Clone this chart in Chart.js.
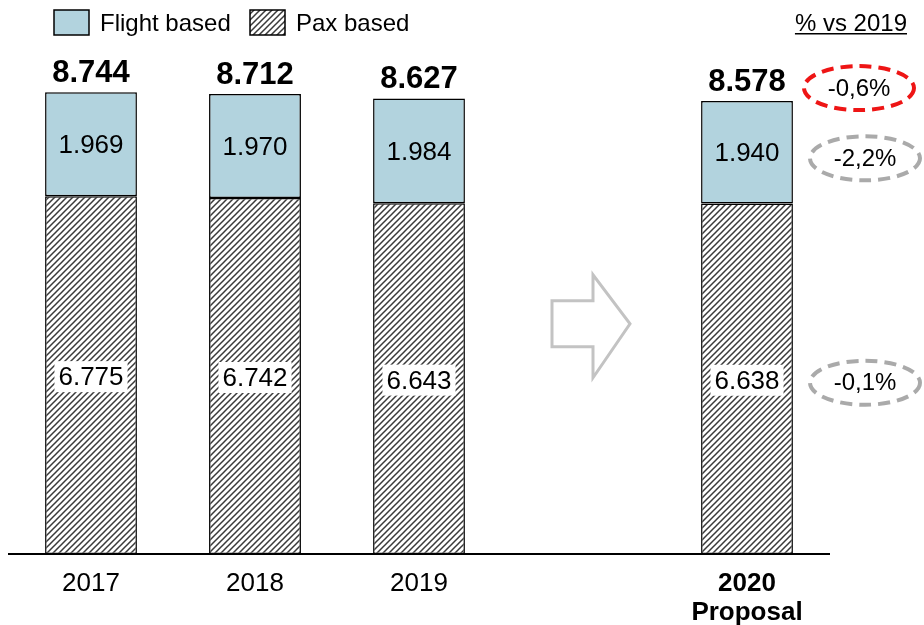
<!DOCTYPE html>
<html>
<head>
<meta charset="utf-8">
<script src="https://cdn.jsdelivr.net/npm/chart.js"></script>
<style>
  html, body { margin: 0; padding: 0; background: #fff; }
  #wrap { width: 924px; height: 625px; position: relative; }
</style>
</head>
<body>
<div id="wrap"><canvas id="chart"></canvas></div>
<script>
// data
const categories = ["2017", "2018", "2019", "", ["2020", "Proposal"]];
const paxBased = [6775, 6742, 6643, null, 6638];
const flightBased = [1969, 1970, 1984, null, 1940];
const vs2019 = ["-0,6%", "-2,2%", "-0,1%"]; // total, flight, pax for 2020

const FONT = "'Liberation Sans', Arial, sans-serif";
const blue = "#b2d3de";

// hatch pattern for Pax based
const makeHatch = () => {
    const c = document.createElement("canvas");
    c.width = 6; c.height = 6;
    const g = c.getContext("2d");
    g.fillStyle = "#fff";
    g.fillRect(0, 0, 6, 6);
    g.strokeStyle = "#3a3a3a";
    g.lineWidth = 1.5;
    g.beginPath();
    g.moveTo(-1, 7); g.lineTo(7, -1);
    g.moveTo(-4, 4); g.lineTo(4, -4);
    g.moveTo(2, 10); g.lineTo(10, 2);
    g.stroke();
    return g.createPattern(c, "repeat");
};
const hatch = makeHatch();

const fmt = v => v.toFixed(0).replace(/\B(?=(\d{3})+(?!\d))/g, ".");

const extras = {
    id: "extras",
    afterDatasetsDraw(chart) {
        const ctx = chart.ctx;
        const paxMeta = chart.getDatasetMeta(0);
        const flMeta = chart.getDatasetMeta(1);
        ctx.save();
        ctx.textAlign = "center";
        ctx.textBaseline = "middle";

        categories.forEach((c, i) => {
            if (paxBased[i] == null) return;
            const pb = paxMeta.data[i], fb = flMeta.data[i];
            // pax label with white box
            const py = (pb.y + pb.base) / 2;
            ctx.font = "26px " + FONT;
            const t = fmt(paxBased[i]);
            const w = ctx.measureText(t).width + 8;
            ctx.fillStyle = "#fff";
            ctx.fillRect(pb.x - w / 2, py - 14, w, 31);
            ctx.fillStyle = "#000";
            ctx.fillText(t, pb.x, py + 3);
            // flight label
            ctx.fillText(fmt(flightBased[i]), fb.x, (fb.y + fb.base) / 2 + 2);
            // total
            ctx.font = "bold 31px " + FONT;
            ctx.textBaseline = "alphabetic";
            ctx.fillText(fmt(paxBased[i] + flightBased[i]), fb.x, fb.y - 10);
            ctx.textBaseline = "middle";
        });

        // % vs 2019 ellipses for last bar
        const last = categories.length - 1;
        const fb = flMeta.data[last], pb = paxMeta.data[last];
        const ex = fb.x + 118;
        const rows = [
            { y: fb.y - 13, color: "#ee1515", x: ex - 6 },
            { y: (fb.y + fb.base) / 2 + 6, color: "#aaaaaa", x: ex },
            { y: (pb.y + pb.base) / 2 + 4, color: "#aaaaaa", x: ex }
        ];
        rows.forEach((r, k) => {
            ctx.beginPath();
            ctx.setLineDash([12, 7]);
            ctx.lineWidth = 4;
            ctx.strokeStyle = r.color;
            ctx.ellipse(r.x, r.y, 55, 22, 0, 0, Math.PI * 2);
            ctx.stroke();
            ctx.setLineDash([]);
            ctx.fillStyle = "#000";
            ctx.font = "24px " + FONT;
            ctx.fillText(vs2019[k], r.x, r.y + 1);
        });

        // header
        ctx.font = "24px " + FONT;
        ctx.textAlign = "right";
        ctx.textBaseline = "alphabetic";
        const hw = ctx.measureText("% vs 2019").width;
        ctx.fillText("% vs 2019", 907, 31);
        ctx.fillRect(907 - hw, 33, hw, 1.5);

        // arrow in empty slot
        const ax = chart.scales.x.getPixelForValue(3) + 8;
        const ay = (pb.y + pb.base) / 2 - 55;
        ctx.beginPath();
        ctx.strokeStyle = "#c3c3c3";
        ctx.lineWidth = 3;
        ctx.moveTo(ax - 39, ay - 23);
        ctx.lineTo(ax + 2, ay - 23);
        ctx.lineTo(ax + 2, ay - 49);
        ctx.lineTo(ax + 39, ay);
        ctx.lineTo(ax + 2, ay + 54);
        ctx.lineTo(ax + 2, ay + 23);
        ctx.lineTo(ax - 39, ay + 23);
        ctx.closePath();
        ctx.stroke();

        // legend
        ctx.lineWidth = 1.5;
        ctx.strokeStyle = "#000";
        ctx.fillStyle = blue;
        ctx.fillRect(54, 10, 35, 25);
        ctx.strokeRect(54, 10, 35, 25);
        ctx.fillStyle = hatch;
        ctx.fillRect(250, 10, 35, 25);
        ctx.strokeRect(250, 10, 35, 25);
        ctx.fillStyle = "#000";
        ctx.font = "24px " + FONT;
        ctx.textAlign = "left";
        ctx.textBaseline = "middle";
        ctx.fillText("Flight based", 100, 24);
        ctx.fillText("Pax based", 296, 24);
        ctx.restore();
    }
};

new Chart(document.getElementById("chart"), {
    type: "bar",
    data: {
        labels: categories,
        datasets: [
            {
                label: "Pax based",
                data: paxBased,
                backgroundColor: hatch,
                borderColor: "#000",
                borderWidth: 1.5,
                borderSkipped: false
            },
            {
                label: "Flight based",
                data: flightBased,
                backgroundColor: blue,
                borderColor: "#000",
                borderWidth: 1.5,
                borderSkipped: false
            }
        ]
    },
    options: {
        responsive: true,
        maintainAspectRatio: false,
        animation: false,
        layout: { padding: { left: 9, right: 95, top: 26, bottom: 0 } },
        datasets: { bar: { barPercentage: 0.56, categoryPercentage: 1 } },
        plugins: {
            legend: { display: false },
            tooltip: { enabled: false }
        },
        scales: {
            x: {
                stacked: true,
                afterFit: s => { s.height = 71; },
                grid: { display: false, drawTicks: false },
                border: { display: true, color: "#000", width: 2 },
                ticks: {
                    color: "#000",
                    padding: 15,
                    font: c => ({
                        family: FONT,
                        size: 26,
                        lineHeight: 1.12,
                        weight: c.index === 4 ? "bold" : "normal"
                    })
                }
            },
            y: {
                stacked: true,
                display: false,
                min: 0,
                max: 10000
            }
        }
    },
    plugins: [extras]
});
</script>
</body>
</html>
